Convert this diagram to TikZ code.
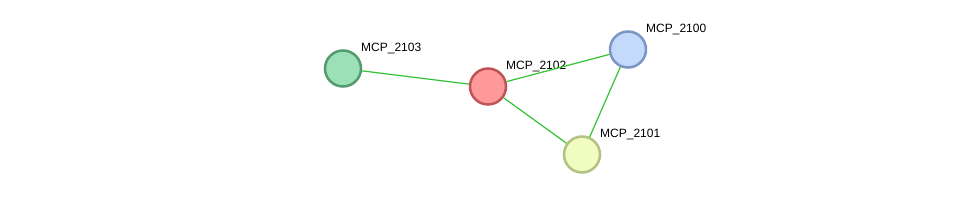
\documentclass[tikz,border=0pt]{standalone}
\usepackage{fontspec}
\setmainfont{Liberation Sans}
\usetikzlibrary{positioning}
\definecolor{eGRN}{HTML}{33C233}
\definecolor{fRED}{HTML}{FF9A9A}
\definecolor{dRED}{HTML}{C05555}
\definecolor{fGRN}{HTML}{9BE0B6}
\definecolor{dGRN}{HTML}{559A6E}
\definecolor{fBLU}{HTML}{C4DAFC}
\definecolor{dBLU}{HTML}{7C96C4}
\definecolor{fYEL}{HTML}{F0FCC0}
\definecolor{dYEL}{HTML}{B3C183}

\begin{document}
\begin{tikzpicture}[x=1pt, y=-1pt, font=\fontsize{12}{14}\selectfont,
  prot/.style={circle, draw, line width=2.5pt, minimum size=36pt, inner sep=0pt},
  lbl/.style={anchor=west, inner sep=0pt},
  edge/.style={eGRN, line width=1.2pt}]
\useasboundingbox (0,0) rectangle (975,200);
\node[prot, fill=fGRN, draw=dGRN] (p2103) at (343,68.5) {};
\node[prot, fill=fRED, draw=dRED] (p2102) at (488,86.5) {};
\node[prot, fill=fBLU, draw=dBLU] (p2100) at (628,49.5) {};
\node[prot, fill=fYEL, draw=dYEL] (p2101) at (582,154.5) {};
\node[lbl] (l2103) at (361,49) {MCP\_2103};
\node[lbl] (l2102) at (506,67) {MCP\_2102};
\node[lbl] (l2100) at (646,30) {MCP\_2100};
\node[lbl] (l2101) at (600,135) {MCP\_2101};
\draw[edge] (p2103) -- (p2102);
\draw[edge] (p2102) -- (p2100);
\draw[edge] (p2102) -- (p2101);
\draw[edge] (p2100) -- (p2101);
\end{tikzpicture}
\end{document}
